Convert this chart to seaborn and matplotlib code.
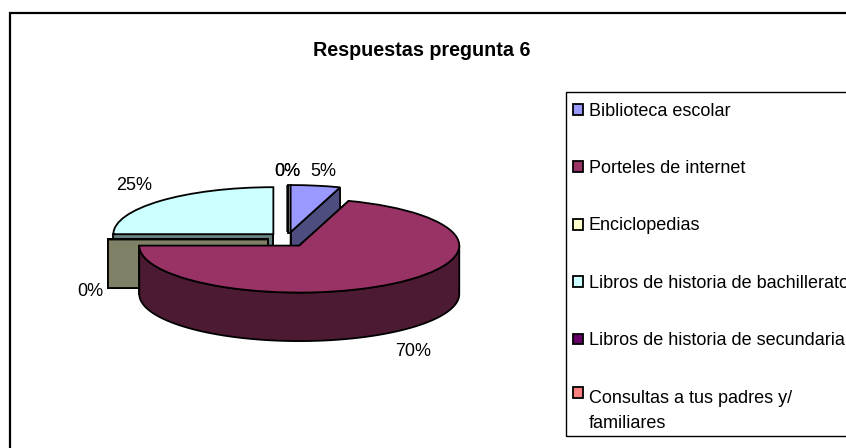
import numpy as np
import seaborn as sns
import matplotlib.pyplot as plt
from matplotlib.patches import Rectangle

# Data
categories = [
    "Biblioteca escolar",
    "Porteles de internet",
    "Enciclopedias",
    "Libros de historia de bachillerato",
    "Libros de historia de secundaria",
    "Consultas a tus padres y/\nfamiliares",
]
values = [5, 70, 0, 25, 0, 0]
colors = ["#9999FF", "#993366", "#FFFFCC", "#CCFFFF", "#660066", "#FF8080"]

W, H = 846, 448
CX, CY = 287.5, 239.5  # pixel position of pie centre
RX, RY = 160, 47       # pixels per data unit
DEPTH = 48.5 / RY
EXPLODE_X, EXPLODE_Y = 0.125, 0.16

sns.set_theme(style="white")
plt.rcParams["font.family"] = ["Liberation Sans", "DejaVu Sans"]

fig = plt.figure(figsize=(W / 100, H / 100), dpi=100, facecolor="white")
ax = fig.add_axes([0, 0, 1, 1])

wedges, _ = ax.pie(
    values,
    colors=sns.color_palette(colors),
    startangle=90,
    counterclock=False,
    wedgeprops={"edgecolor": "black", "linewidth": 1.3},
)
ax.set_aspect("auto")
ax.set_xlim(-CX / RX, (W - CX) / RX)
ax.set_ylim(-(H - CY) / RY, CY / RY)
ax.axis("off")


def rim(center, angles):
    t = np.radians(angles)
    return center[0] + np.cos(t), center[1] + np.sin(t)


def draw_walls(wedge, color, z):
    """Draw the cut faces and the front rim under one slice."""
    wall = tuple(c * 0.5 for c in color[:3])
    cx, cy = wedge.center
    style = {"facecolor": wall, "edgecolor": "black", "linewidth": 1.3, "zorder": z}
    for angle in (wedge.theta1, wedge.theta2):
        x, y = rim((cx, cy), angle)
        ax.fill([cx, x, x, cx], [cy, y, y - DEPTH, cy - DEPTH], **style)
    front = np.linspace(max(wedge.theta1, -180), min(wedge.theta2, 0), 80)
    if wedge.theta2 > -180 and front[-1] > front[0]:
        x, y = rim((cx, cy), front)
        ax.fill(np.r_[x, x[::-1]], np.r_[y, y[::-1] - DEPTH], **style)
    wedge.set_zorder(z + 0.5)


order = {0: 1, 1: 4, 2: 3, 3: 2, 4: 1, 5: 1}
rgb = sns.color_palette(colors)
for i, w in enumerate(wedges):
    mid = np.radians((w.theta1 + w.theta2) / 2)
    w.set_center((EXPLODE_X * np.cos(mid), EXPLODE_Y * np.sin(mid)))
    if values[i] > 0 or i == 2:
        draw_walls(w, rgb[i], order[i])

# The two empty slices show as a thin grey strip beside the first slice
zero_x = wedges[4].center[0]
blue_x = wedges[0].center[0]
zero_y = wedges[4].center[1] + 1
ax.fill(
    [zero_x, blue_x, blue_x, zero_x],
    [zero_y, zero_y, zero_y - DEPTH, zero_y - DEPTH],
    facecolor="#8C8C8C", edgecolor="black", linewidth=1.3, zorder=0.5,
)


def fx(x):
    return x / W


def fy(y):
    return 1 - y / H


# Outer chart border runs off the right and bottom of the picture
fig.add_artist(Rectangle((fx(10), fy(470)), 1, fy(13) - fy(470), fill=False,
                         edgecolor="black", linewidth=1.6,
                         transform=fig.transFigure))

# Legend box also runs off the right edge
fig.add_artist(Rectangle((fx(566), fy(436)), 1, fy(92) - fy(436), fill=False,
                         edgecolor="black", linewidth=1.0,
                         transform=fig.transFigure))

fig.text(fx(422), fy(50), "Respuestas pregunta 6", ha="center", va="center",
         fontsize=14.2, fontweight="bold", color="black")

label_pos = {0: (323, 171.5), 1: (413, 351.5), 2: (90, 291.5), 3: (134, 185.5), 4: (287, 171.5), 5: (287.5, 171.5)}
for i, (x, y) in label_pos.items():
    fig.text(fx(x), fy(y), f"{values[i]}%", ha="center", va="center",
             fontsize=13, color="black")

leg = ax.legend(
    wedges, categories,
    loc="upper left", bbox_to_anchor=(fx(565.5), fy(95)), bbox_transform=fig.transFigure,
    fontsize=13, frameon=False,
    handlelength=0.55, handleheight=0.55, handletextpad=0.33,
    labelspacing=2.24, borderpad=0.42, borderaxespad=0,
)
leg.set_zorder(10)
for t in leg.get_texts():
    t.set_color("black")
    t.set_linespacing(1.6)

# Last swatch sits beside the first line of its two-line label
last = leg.legend_handles[-1]
last.set_y(last.get_y() + 13)

fig.savefig("out.png", dpi=100)
